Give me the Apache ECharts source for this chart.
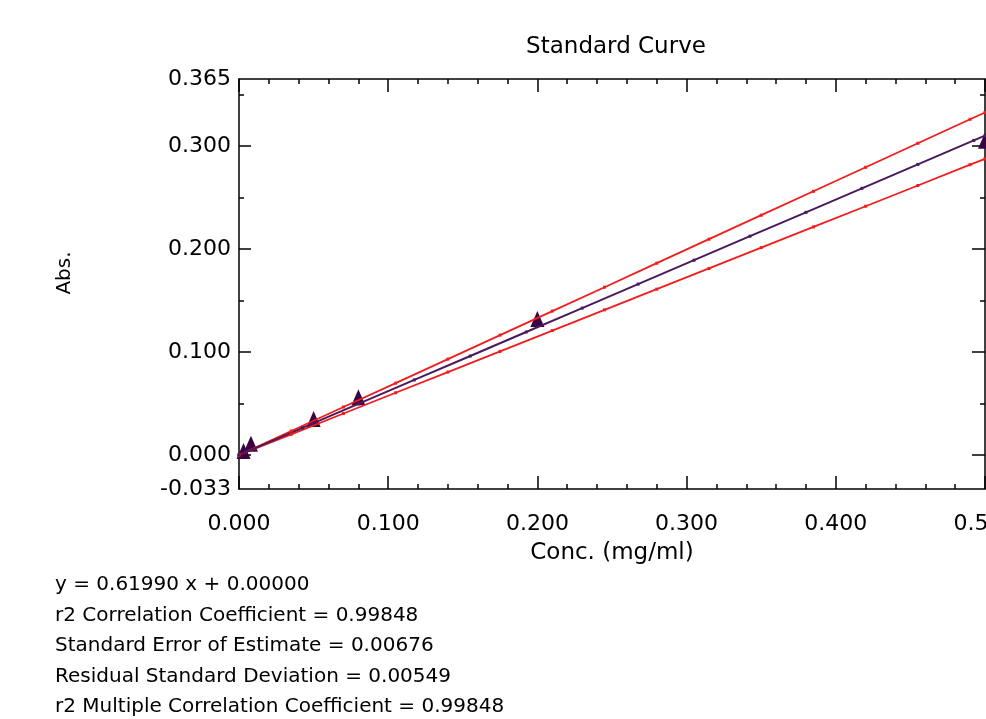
<!DOCTYPE html>
<html>
<head>
<meta charset="utf-8">
<style>
  html, body { margin: 0; padding: 0; background: #fff; }
  #chart { width: 986px; height: 719px; }
</style>
<script src="https://cdn.jsdelivr.net/npm/echarts@6.0.0/dist/echarts.min.js"></script>
</head>
<body>
<div id="chart"></div>
<script>
// standards (triangles)
var stdConc = [0.003, 0.008, 0.05, 0.08, 0.2, 0.5];
var stdAbs = [0.004, 0.011, 0.035, 0.056, 0.132, 0.305];

// fitted line
var fitConc = [0, 0.005, 0.0425, 0.08, 0.1175, 0.155, 0.1925, 0.23, 0.2675, 0.305, 0.3425, 0.38, 0.4175, 0.455, 0.4925, 0.5];
var fitAbs = [0, 0.0031, 0.0264, 0.0496, 0.0729, 0.0961, 0.1194, 0.1426, 0.1659, 0.1891, 0.2124, 0.2356, 0.2589, 0.2821, 0.3054, 0.31];

// confidence limits
var bandConc = [0, 0.035, 0.07, 0.105, 0.14, 0.175, 0.21, 0.245, 0.28, 0.315, 0.35, 0.385, 0.42, 0.455, 0.49, 0.5];
var upperAbs = [0, 0.0233, 0.0466, 0.0698, 0.0931, 0.1164, 0.1397, 0.1629, 0.1862, 0.2095, 0.2328, 0.256, 0.2793, 0.3026, 0.3259, 0.3325];
var lowerAbs = [0, 0.0201, 0.0403, 0.0604, 0.0805, 0.1006, 0.1208, 0.1409, 0.161, 0.1811, 0.2013, 0.2214, 0.2415, 0.2616, 0.2818, 0.2875];

var xMinor = [0.02, 0.04, 0.06, 0.08, 0.12, 0.14, 0.16, 0.18, 0.22, 0.24, 0.26, 0.28,
              0.32, 0.34, 0.36, 0.38, 0.42, 0.44, 0.46, 0.48];
var yLabels = [-0.033, 0, 0.1, 0.2, 0.3, 0.365];
var yMajor = [0, 0.1, 0.2, 0.3];
var yMinor = [0.05, 0.15, 0.25, 0.35];

var statsLines = [
  'y = 0.61990 x + 0.00000',
  'r2 Correlation Coefficient = 0.99848',
  'Standard Error of Estimate = 0.00676',
  'Residual Standard Deviation = 0.00549',
  'r2 Multiple Correlation Coefficient = 0.99848'
];

var font = 'DejaVu Sans';
var purple = '#4a1a5c';
var red = '#f21c1c';

function pairs(xs, ys) {
  return xs.map(function (x, i) { return [x, ys[i]]; });
}

var lineAxis = { show: true, onZero: false, lineStyle: { color: '#000', width: 1.5 } };
var noLine = { show: false, onZero: false };
function ticks(len, vals) {
  var t = { inside: true, length: len, lineStyle: { color: '#000', width: 1.5 } };
  if (vals) t.customValues = vals;
  return t;
}

var graphics = statsLines.map(function (t, i) {
  return {
    type: 'text', left: 55, top: 575 + i * 30.5,
    style: { text: t, font: '20px "' + font + '"', fill: '#000' }
  };
});
graphics.push({
  type: 'text', x: 65, y: 273, rotation: Math.PI / 2,
  style: { text: 'Abs.', font: '20px "' + font + '"', fill: '#000', align: 'center', verticalAlign: 'middle' }
});

var chart = echarts.init(document.getElementById('chart'));
chart.setOption({
  animation: false,
  backgroundColor: '#fff',
  textStyle: { fontFamily: font },
  title: {
    text: 'Standard Curve', left: 611, top: 31, textAlign: 'center',
    textStyle: { fontSize: 23, fontWeight: 'normal', color: '#000', fontFamily: font }
  },
  grid: { left: 239, top: 79, right: 1, bottom: 230, containLabel: false, outerBoundsMode: 'none' },
  xAxis: [{
    type: 'value', position: 'bottom', min: 0, max: 0.5, interval: 0.1,
    axisLine: lineAxis, axisTick: ticks(13), splitLine: { show: false },
    axisLabel: {
      color: '#000', fontSize: 22, fontFamily: font, margin: 24,
      formatter: function (v) { return v.toFixed(3); }
    },
    name: 'Conc. (mg/ml)', nameLocation: 'middle', nameGap: 53,
    nameTextStyle: { color: '#000', fontSize: 23, fontFamily: font }
  }, {
    type: 'value', position: 'bottom', min: 0, max: 0.5,
    axisLine: noLine, axisTick: ticks(5, xMinor), splitLine: { show: false },
    axisLabel: { show: false }
  }, {
    type: 'value', position: 'top', min: 0, max: 0.5, interval: 0.1,
    axisLine: lineAxis, axisTick: ticks(13), splitLine: { show: false },
    axisLabel: { show: false }
  }, {
    type: 'value', position: 'top', min: 0, max: 0.5,
    axisLine: noLine, axisTick: ticks(5, xMinor), splitLine: { show: false },
    axisLabel: { show: false }
  }],
  yAxis: [{
    type: 'value', position: 'left', min: -0.033, max: 0.365,
    axisLine: lineAxis, axisTick: ticks(12, yMajor), splitLine: { show: false },
    axisLabel: {
      color: '#000', fontSize: 22, fontFamily: font, margin: 8, customValues: yLabels,
      formatter: function (v) { return v.toFixed(3); }
    }
  }, {
    type: 'value', position: 'left', min: -0.033, max: 0.365,
    axisLine: noLine, axisTick: ticks(5, yMinor), splitLine: { show: false },
    axisLabel: { show: false }
  }, {
    type: 'value', position: 'right', min: -0.033, max: 0.365,
    axisLine: lineAxis, axisTick: ticks(13, yMajor), splitLine: { show: false },
    axisLabel: { show: false }
  }, {
    type: 'value', position: 'right', min: -0.033, max: 0.365,
    axisLine: noLine, axisTick: ticks(5, yMinor), splitLine: { show: false },
    axisLabel: { show: false }
  }],
  graphic: graphics,
  series: [{
    type: 'line', name: 'upper', data: pairs(bandConc, upperAbs),
    symbol: 'rect', symbolSize: 3, showSymbol: true,
    itemStyle: { color: red }, lineStyle: { color: red, width: 1.8 }
  }, {
    type: 'line', name: 'lower', data: pairs(bandConc, lowerAbs),
    symbol: 'rect', symbolSize: 3, showSymbol: true,
    itemStyle: { color: red }, lineStyle: { color: red, width: 1.8 }
  }, {
    type: 'line', name: 'fit', data: pairs(fitConc, fitAbs),
    symbol: 'rect', symbolSize: 3, showSymbol: true,
    itemStyle: { color: purple }, lineStyle: { color: purple, width: 2 }
  }, {
    type: 'scatter', name: 'standards', data: pairs(stdConc, stdAbs),
    symbol: 'triangle', symbolSize: [14, 16],
    itemStyle: { color: '#3a0442', opacity: 1 }
  }]
});
</script>
</body>
</html>
